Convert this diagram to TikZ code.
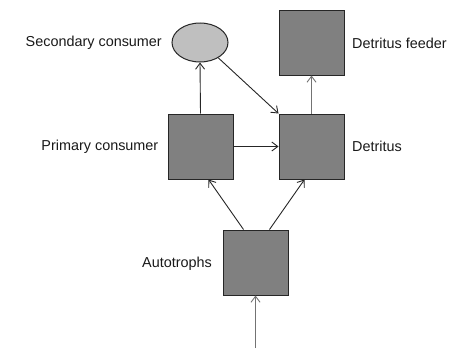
\documentclass[tikz,border=0pt]{standalone}
\usepackage{fontspec}
\setmainfont{Liberation Sans}
\usetikzlibrary{arrows.meta,shapes.geometric}
\begin{document}
\begin{tikzpicture}[x=1pt,y=-1pt,
  box/.style={draw=black!85,line width=1pt,fill=black!50,minimum size=65pt,inner sep=0pt},
  ell/.style={ellipse,draw=black!85,line width=1pt,fill=black!25,minimum width=56pt,minimum height=39pt,inner sep=0pt},
  lab/.style={font=\fontsize{14.4}{17}\selectfont,text=black!90,inner sep=0pt},
  arr/.style={draw=black!85,line width=0.9pt,-{Straight Barb[length=6pt,width=9pt]}},
  garr/.style={arr,draw=black!55}]
\useasboundingbox (0,0) rectangle (466,356);
\node[ell] (sec) at (200,42.5) {};
\node[box] (feed) at (311.5,42.5) {};
\node[box] (prim) at (200.5,146.5) {};
\node[box] (det) at (311.5,146.5) {};
\node[box] (auto) at (255.5,262.5) {};
\coordinate (src) at (255.5,348);
\node[lab,anchor=east] (lsec) at (162,43) {Secondary consumer};
\node[lab,anchor=west] (lfeed) at (352,43) {Detritus feeder};
\node[lab,anchor=east] (lprim) at (158.5,146.5) {Primary consumer};
\node[lab,anchor=west] (ldet) at (352,146.5) {Detritus};
\node[lab,anchor=east] (lauto) at (212,264) {Autotrophs};
\draw[arr] (prim.north) -- (sec.south);
\draw[arr] (sec.-40) -- (det.north west);
\draw[garr] (det.north) -- (feed.south);
\draw[arr] (prim.east) -- (det.west);
\draw[arr] ([xshift=-12pt]auto.north) -- ([xshift=8pt]prim.south);
\draw[arr] ([xshift=14pt]auto.north) -- ([xshift=-7pt]det.south);
\draw[garr] (src) -- (auto.south);
\end{tikzpicture}
\end{document}
